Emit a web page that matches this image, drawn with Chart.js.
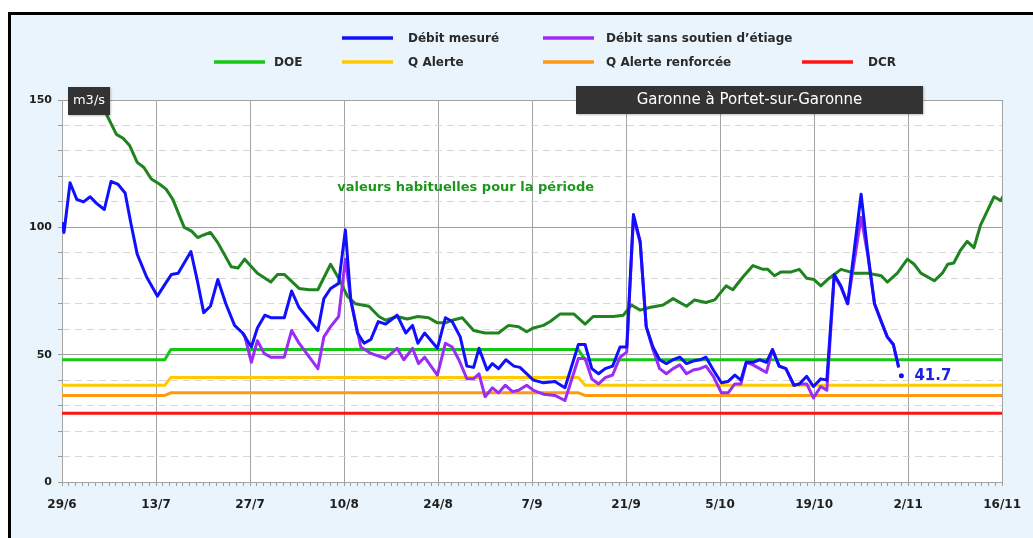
<!DOCTYPE html>
<html lang="fr">
<head>
<meta charset="utf-8">
<title>Garonne à Portet-sur-Garonne</title>
<script src="https://cdn.jsdelivr.net/npm/chart.js@4.4.1/dist/chart.umd.min.js"></script>
<style>
    html, body { margin: 0; padding: 0; background: #fff; overflow: hidden; }
    #wrap { width: 1033px; height: 538px; }
    canvas { display: block; }
</style>
</head>
<body>
<div id="wrap"><canvas id="debit-chart" width="1033" height="538"></canvas></div>
<script>
/* Garonne à Portet-sur-Garonne — débits journaliers, 29/6 au 16/11 (x = jours depuis le 29/6) */

var tickLabels = ['29/6', '13/7', '27/7', '10/8', '24/8', '7/9', '21/9', '5/10', '19/10', '2/11', '16/11'];
var tickStep = 14;
var dayMax = 140;

// [jour, m3/s]
var debitMesure = [
    [0, 102], [0.3, 98], [1.2, 117.5], [2.2, 111], [3.2, 110], [4.2, 112], [5.1, 109.5], [6.3, 107],
    [7.3, 118], [8.3, 117], [9.4, 113.5], [10.3, 101], [11.2, 89.5], [12.6, 80.5], [14.2, 73],
    [15.3, 77.5], [16.3, 81.5], [17.3, 82], [19.2, 90.5], [20.2, 78.5], [21.1, 66.5], [22.1, 69],
    [23.2, 79.5], [24.4, 70], [25.7, 61.5], [26.9, 58.5], [28.2, 53], [29.1, 60.5], [30.2, 65.5],
    [31.1, 64.5], [33.1, 64.5], [34.2, 75], [35.3, 68.5], [38.1, 59.5], [39, 72], [40, 76], [41.2, 78],
    [42.2, 99], [43, 71.5], [44, 58.5], [45, 54.5], [46, 56], [47.1, 63], [48.2, 62], [49.9, 65.5],
    [51.2, 58.5], [52.2, 61.5], [53, 54.5], [54, 58.5], [55.9, 52.5], [57.1, 64.5], [58.1, 63],
    [59.3, 57], [60.3, 45.5], [61.3, 45], [62.1, 52.5], [63.3, 44], [64.1, 46.5], [65, 44.5], [66.1, 48],
    [67.3, 45.5], [68.2, 45], [70.2, 40], [71.7, 39], [73.4, 39.5], [74.9, 37], [76.9, 54], [77.9, 54],
    [78.9, 44.5], [79.9, 42.5], [80.9, 44.5], [82, 45.5], [83.1, 53], [84.1, 53], [85.1, 105], [86.1, 94.5],
    [87, 61], [88, 53], [89, 48], [90, 46.5], [91, 48], [92, 49], [93, 46.5], [94, 47.5], [95, 48],
    [95.9, 49], [97, 44], [98.2, 39], [99.2, 39.5], [100.2, 42], [101.1, 40], [101.9, 47], [102.9, 47],
    [103.9, 48], [104.9, 47], [105.8, 52], [106.8, 45.5], [107.8, 44.5], [109, 38], [109.8, 38.5],
    [110.9, 41.5], [111.9, 37.5], [113, 40.5], [113.9, 40], [115, 81.5], [116, 77], [117, 70], [119, 113],
    [120, 90], [121, 70], [122, 63], [122.9, 57], [123.8, 54], [124.6, 45]
];

var debitSansSoutien = [
    [26.9, 58.5], [27.2, 57.5], [28.2, 47], [29.1, 55.5], [30.1, 50.5], [31.1, 49], [33.1, 49],
    [34.2, 59.5], [35.3, 54.5], [38.1, 44.5], [39, 57], [40, 61], [41.2, 65], [42.2, 87.5], [43, 71.5],
    [44.5, 53], [46, 50.5], [48.2, 48.5], [49.9, 52.5], [50.9, 48], [52.2, 52.5], [53.1, 46.5], [54, 49],
    [55.9, 42], [57.1, 54.5], [58.1, 53], [59.1, 48], [60.3, 40.5], [61.3, 40.5], [62.1, 42.5], [63, 33.5],
    [64.1, 37], [65, 35], [66, 38], [67.1, 35.5], [68, 36], [69.2, 38], [70.2, 36], [71.7, 34.5],
    [73.4, 34], [74.9, 32], [76.9, 48.5], [77.9, 48.5], [78.9, 40.5], [79.9, 38.5], [80.9, 41], [82, 42],
    [83.1, 49], [84.1, 51], [85.1, 104], [86.1, 94], [87, 61], [88, 52], [89, 44.5], [90, 42.5],
    [91, 44.5], [92, 46], [93, 42.5], [94, 44], [95, 44.5], [95.9, 45.5], [97, 41.5], [98.2, 35],
    [99.2, 35], [100.2, 38.5], [101.1, 38.5], [101.9, 47], [102.9, 46], [103.9, 44.5], [104.9, 43],
    [105.8, 52], [106.8, 45.5], [107.8, 44.5], [109, 38], [109.8, 38.5], [110.9, 38.5], [111.9, 33],
    [113, 37.5], [113.9, 36], [115, 81], [116, 76.5], [117, 70], [119, 104], [120, 89], [121, 70],
    [122, 63], [122.9, 57], [123.8, 54], [124.6, 45]
];

var valeursHabituelles = [
    [5, 156], [6.6, 144.5], [8.1, 136.5], [9.1, 135], [10.1, 132], [11.2, 125.5], [12.2, 123.5],
    [13.3, 119], [14.5, 117], [15.5, 115], [16.5, 111], [18.2, 100], [19.3, 98.5], [20.2, 96], [21.1, 97],
    [22.1, 98], [23.2, 94], [25.2, 84.5], [26.2, 84], [27.2, 87.5], [29.1, 82], [31.1, 78.5], [32.1, 81.5],
    [33.1, 81.5], [35.3, 76], [36.8, 75.5], [38.1, 75.5], [40, 85.5], [41.3, 79.5], [42.5, 73],
    [43.7, 70], [45.7, 69], [47.2, 65], [48.2, 63.5], [49.9, 65], [51.4, 64], [53, 65], [54.6, 64.5],
    [55.9, 62.5], [57.1, 62.5], [58.1, 63.5], [59.6, 64.5], [61.3, 59.5], [63, 58.5], [65, 58.5],
    [66.5, 61.5], [68, 61], [69.2, 59], [70.2, 60.5], [71.7, 61.5], [72.7, 63], [74.2, 66], [76.2, 66],
    [77.9, 62], [79.1, 65], [80.6, 65], [82.1, 65], [83.6, 65.5], [84.8, 69.5], [86.1, 67.5], [87.5, 68.5],
    [89.5, 69.5], [91, 72], [93, 69], [94.2, 71.5], [95.9, 70.5], [97.2, 71.5], [98.9, 77], [99.9, 75.5],
    [101.4, 80.5], [102.9, 85], [104.4, 83.5], [105.1, 83.5], [106.1, 81], [107.1, 82.5], [108.6, 82.5],
    [109.8, 83.5], [110.9, 80], [112, 79.5], [113, 77], [114, 79.5], [116, 83.5], [118, 82], [120, 82],
    [122, 81], [122.9, 78.5], [124.4, 82], [125.9, 87.5], [126.9, 85.5], [127.9, 82], [129.9, 79],
    [131.1, 82], [131.9, 85.5], [132.8, 86], [133.8, 91], [134.8, 94.5], [135.8, 92], [136.8, 101],
    [137.8, 106.5], [138.8, 112], [139.8, 110.5], [140.5, 114]
];

var doe = [[0, 48], [15.3, 48], [16.2, 52], [76.9, 52], [77.9, 48], [140, 48]];
var qAlerte = [[0, 38], [15.3, 38], [16.2, 41], [76.9, 41], [77.9, 38], [140, 38]];
var qAlerteRenforcee = [[0, 34], [15.3, 34], [16.2, 35], [76.9, 35], [77.9, 34], [140, 34]];
var dcr = [[0, 27], [140, 27]];

var dernierReleve = [[125, 41.7]];

(function () {
    'use strict';

    var FONT = '"DejaVu Sans", Verdana, sans-serif';

    function pts(list) {
        return list.map(function (p) { return { x: p[0], y: p[1] }; });
    }

    function lineSet(label, list, color, order) {
        return {
            label: label,
            data: pts(list),
            borderColor: color,
            backgroundColor: color,
            borderWidth: 3,
            pointRadius: 0,
            tension: 0,
            borderJoinStyle: 'round',
            order: order
        };
    }

    var datasets = [
        lineSet('Débit mesuré', debitMesure, '#1010ff', 0),
        lineSet('Débit sans soutien d\u2019étiage', debitSansSoutien, '#9b2cf5', 1),
        lineSet('valeurs habituelles pour la période', valeursHabituelles, '#1f841f', 2),
        lineSet('DOE', doe, '#14c814', 3),
        lineSet('Q Alerte', qAlerte, '#ffc800', 4),
        lineSet('Q Alerte renforcée', qAlerteRenforcee, '#ff9a10', 5),
        lineSet('DCR', dcr, '#ff1414', 6),
        {
            label: 'dernier',
            data: pts(dernierReleve),
            showLine: false,
            pointRadius: 2.5,
            pointBackgroundColor: '#1010ff',
            pointBorderWidth: 0,
            order: 7
        }
    ];

    // fond, cadre noir et zone de tracé blanche
    var framePlugin = {
        id: 'frame',
        beforeDraw: function (chart) {
            var ctx = chart.ctx;
            var a = chart.chartArea;
            ctx.save();
            ctx.fillStyle = '#ffffff';
            ctx.fillRect(0, 0, chart.width, chart.height);
            ctx.fillStyle = '#e9f4fc';
            ctx.fillRect(11, 15, chart.width - 11, chart.height - 15);
            ctx.fillStyle = '#000000';
            ctx.fillRect(8, 12, chart.width - 8, 3);
            ctx.fillRect(8, 12, 3, chart.height - 12);
            ctx.fillStyle = '#ffffff';
            ctx.fillRect(a.left, a.top, a.right - a.left, a.bottom - a.top);
            ctx.restore();
        }
    };

    // légende sur deux lignes, cartouches et annotations
    var overlayPlugin = {
        id: 'overlay',
        afterDraw: function (chart) {
            var ctx = chart.ctx;
            var a = chart.chartArea;
            var xs = chart.scales.x;
            var ys = chart.scales.y;
            var ds = chart.data.datasets;
            var rows = [38, 62];
            var slots = [
                { i: 0, row: 0, x: 342, tx: 408 },
                { i: 1, row: 0, x: 543, tx: 606 },
                { i: 3, row: 1, x: 214, tx: 274 },
                { i: 4, row: 1, x: 342, tx: 408 },
                { i: 5, row: 1, x: 543, tx: 606 },
                { i: 6, row: 1, x: 802, tx: 868 }
            ];

            ctx.save();
            ctx.textBaseline = 'middle';
            ctx.font = 'bold 12px ' + FONT;
            slots.forEach(function (s) {
                var y = rows[s.row];
                ctx.strokeStyle = ds[s.i].borderColor;
                ctx.lineWidth = 3.5;
                ctx.beginPath();
                ctx.moveTo(s.x, y);
                ctx.lineTo(s.x + 51, y);
                ctx.stroke();
                ctx.fillStyle = '#2a2a2a';
                ctx.textAlign = 'left';
                ctx.fillText(ds[s.i].label, s.tx, y + 1);
            });

            // unité
            ctx.shadowColor = 'rgba(0,0,0,0.25)';
            ctx.shadowOffsetX = 1;
            ctx.shadowOffsetY = 1;
            ctx.shadowBlur = 2;
            ctx.fillStyle = '#333333';
            ctx.fillRect(a.left + 6, a.top - 13, 42, 28);
            // titre station
            ctx.fillRect(576, a.top - 14, 347, 28);
            ctx.shadowColor = 'rgba(0,0,0,0)';
            ctx.fillStyle = '#ffffff';
            ctx.textAlign = 'center';
            ctx.font = '13px ' + FONT;
            ctx.fillText('m3/s', a.left + 27, a.top + 1);
            ctx.font = '15px ' + FONT;
            ctx.fillText('Garonne à Portet-sur-Garonne', 749.5, a.top);

            // libellé de la courbe des valeurs habituelles
            ctx.fillStyle = '#1e961e';
            ctx.textAlign = 'left';
            ctx.font = 'bold 13px ' + FONT;
            ctx.fillText(ds[2].label, xs.getPixelForValue(41), ys.getPixelForValue(115.6));

            // dernière valeur mesurée
            var last = chart.getDatasetMeta(7).data[0];
            ctx.fillStyle = '#2020e0';
            ctx.font = 'bold 15px ' + FONT;
            ctx.fillText(String(dernierReleve[0][1]), last.x + 13, last.y);
            ctx.restore();
        }
    };

    var ctx = document.getElementById('debit-chart').getContext('2d');
    new Chart(ctx, {
        type: 'line',
        data: { datasets: datasets },
        options: {
            responsive: false,
            animation: false,
            events: [],
            devicePixelRatio: 1,
            layout: { padding: { left: 22, top: 100, right: 28, bottom: 24 } },
            plugins: { legend: { display: false }, tooltip: { enabled: false } },
            scales: {
                x: {
                    type: 'linear',
                    min: 0,
                    max: dayMax,
                    afterFit: function (s) { s.height = 32; },
                    ticks: {
                        stepSize: 1,
                        autoSkip: false,
                        maxRotation: 0,
                        minRotation: 0,
                        padding: 12,
                        color: '#1e1e1e',
                        font: { family: FONT, size: 12, weight: 'bold' },
                        callback: function (v) {
                            return v % tickStep === 0 ? tickLabels[v / tickStep] : '';
                        }
                    },
                    grid: {
                        color: function (c) {
                            return c.tick && c.tick.value % tickStep === 0 ? '#a4a4a4' : 'rgba(0,0,0,0)';
                        },
                        tickColor: '#9c9c9c',
                        tickLength: 4,
                        tickBorderDash: []
                    },
                    border: { color: '#a4a4a4' }
                },
                y: {
                    min: 0,
                    max: 150,
                    afterFit: function (s) { s.width = 40; },
                    ticks: {
                        stepSize: 10,
                        padding: 6,
                        color: '#1e1e1e',
                        font: { family: FONT, size: 11, weight: 'bold' },
                        callback: function (v) { return v % 50 === 0 ? String(v) : ''; }
                    },
                    grid: {
                        color: function (c) {
                            if (!c.tick) return '#a4a4a4';
                            return c.tick.value % 50 === 0 ? '#a0a0a0' : '#d6d6d6';
                        },
                        tickColor: '#9c9c9c',
                        tickLength: 4,
                        tickBorderDash: []
                    },
                    border: {
                        color: '#a4a4a4',
                        dash: function (c) {
                            return c.tick && c.tick.value % 50 !== 0 ? [7, 5] : [];
                        }
                    }
                }
            }
        },
        plugins: [framePlugin, overlayPlugin]
    });
})();
</script>
</body>
</html>
